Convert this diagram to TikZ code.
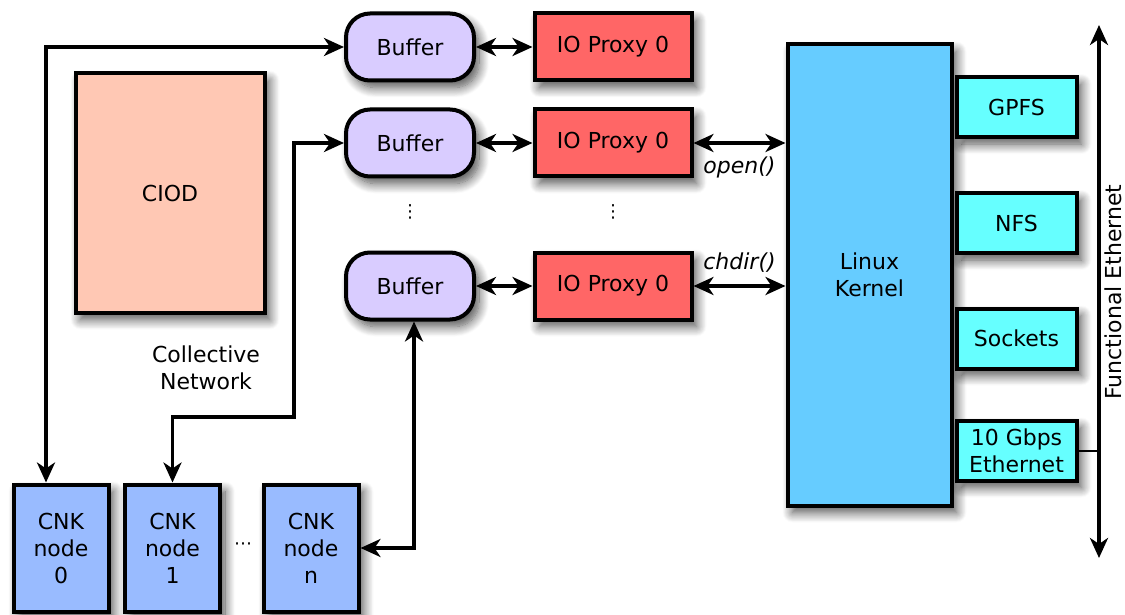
\documentclass[tikz,border=0pt]{standalone}
\usepackage{fontspec}
\setmainfont{DejaVu Sans}
\usetikzlibrary{arrows.meta,shadows.blur}
\definecolor{ciodc}{HTML}{FFC8B4}
\definecolor{bufc}{HTML}{D9CCFF}
\definecolor{proxc}{HTML}{FF6666}
\definecolor{kernc}{HTML}{66CCFF}
\definecolor{fsc}{HTML}{66FFFF}
\definecolor{cnkc}{HTML}{99BBFF}
\tikzset{
  boxbase/.style={draw=black, line width=4pt, inner sep=2pt, align=center,
    font=\fontsize{22}{27}\selectfont,
    blur shadow={shadow xshift=5pt, shadow yshift=-7pt, shadow blur radius=10pt, shadow opacity=70, shadow blur steps=12}},
  bufbox/.style={boxbase, fill=bufc, rounded corners=24pt, minimum width=128pt, minimum height=67pt},
  proxbox/.style={boxbase, fill=proxc, minimum width=157pt, minimum height=67pt},
  fsbox/.style={boxbase, fill=fsc, minimum width=120pt, minimum height=60pt},
  cnkbox/.style={boxbase, fill=cnkc, minimum width=95pt, minimum height=127pt},
  conn/.style={line width=3.5pt, {Stealth[length=20pt,width=18pt,inset=6pt]}-{Stealth[length=20pt,width=18pt,inset=6pt]}},
  lbl/.style={font=\fontsize{22}{27}\selectfont, align=center}
}
\begin{document}
\begin{tikzpicture}[x=1pt,y=-1pt]
\useasboundingbox (0,0) rectangle (1125,615);
\node[boxbase, fill=ciodc, minimum width=189pt, minimum height=239pt] (ciod) at (170,193) {CIOD};

\node[bufbox] (buf1) at (410,47) {Buffer};
\node[bufbox] (buf2) at (410,143) {Buffer};
\node[bufbox] (buf3) at (410,286) {Buffer};
\node[proxbox] (prx1) at (613,47) {IO Proxy 0};
\node[proxbox] (prx2) at (613,143) {IO Proxy 0};
\node[proxbox] (prx3) at (613,286) {IO Proxy 0};
\node[lbl, font=\fontsize{18}{20}\selectfont] (vd1) at (410,212) {⋮};
\node[lbl, font=\fontsize{18}{20}\selectfont] (vd2) at (613,212) {⋮};

\node[boxbase, fill=kernc, minimum width=164pt, minimum height=461pt] (kern) at (869.5,275) {Linux\\Kernel};
\node[fsbox] (gpfs) at (1016.5,107) {GPFS};
\node[fsbox] (nfs) at (1016.5,223) {NFS};
\node[fsbox] (sock) at (1016.5,338.5) {Sockets};
\node[fsbox] (eth) at (1016.5,450.5) {10 Gbps\\Ethernet};

\node[cnkbox] (cnk0) at (61,548) {CNK\\node\\0};
\node[cnkbox] (cnk1) at (172.5,548) {CNK\\node\\1};
\node[cnkbox] (cnkn) at (311,548) {CNK\\node\\n};
\node[lbl, font=\fontsize{18}{20}\selectfont] (hd) at (243,546) {⋯};

\node[lbl] (coll) at (206,368) {Collective\\Network};

% buffer <-> proxy
\draw[conn] (buf1.east) -- (prx1.west);
\draw[conn] (buf2.east) -- (prx2.west);
\draw[conn] (buf3.east) -- (prx3.west);

% proxy <-> kernel
\draw[conn] (prx2.east) -- (prx2.east -| kern.west) node[midway, below=9pt, lbl, font=\fontsize{22}{27}\selectfont\itshape] (lopen) {open()};
\draw[conn] (prx3.east) -- (prx3.east -| kern.west) node[midway, above=9pt, lbl, font=\fontsize{22}{27}\selectfont\itshape] (lchdir) {chdir()};

% CNK connections
\draw[conn] ([xshift=-15pt]cnk0.north) -- ([xshift=-15pt]cnk0.north |- buf1.west) -- (buf1.west);
\draw[conn] (buf2.west) -- (294,143) -- (294,417) -- (cnk1.north |- 0,417) -- (cnk1.north);
\draw[conn] (cnkn.east) -| ([xshift=4pt]buf3.south);

% functional ethernet
\coordinate (etop) at (1099,25);
\coordinate (ebot) at (1099,558);
\draw[conn] (ebot) -- (etop);
\draw[line width=2pt] (eth.east) -- (eth.east -| etop);
\node[lbl, rotate=90, anchor=base, inner sep=0pt, text depth=0pt] (fe) at (1121,292) {Functional Ethernet};
\end{tikzpicture}
\end{document}
